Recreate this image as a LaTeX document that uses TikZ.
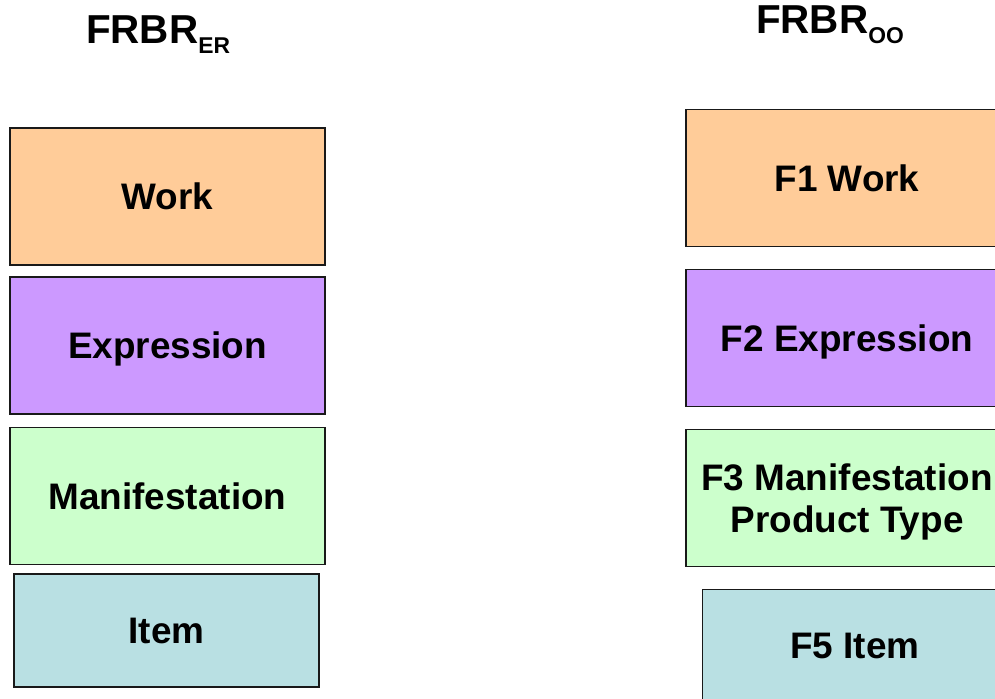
\documentclass[tikz,border=0pt]{standalone}
\usepackage{fontspec}
\setmainfont{Liberation Sans}
\usetikzlibrary{positioning}
\definecolor{workfill}{RGB}{255,204,153}
\definecolor{exprfill}{RGB}{204,153,255}
\definecolor{maniffill}{RGB}{204,255,204}
\definecolor{itemfill}{RGB}{185,224,227}
\newcommand{\subfont}{\fontsize{13}{13}\selectfont\bfseries}
\tikzstyle{title} = [anchor=base, inner sep=0pt, font=\fontsize{23}{26}\selectfont\bfseries]
\tikzstyle{entity} = [rectangle, minimum width=6.3cm, minimum height=2.74cm, text centered, align=center, text depth=0pt, draw=black!90, line width=1.1pt, font=\fontsize{21}{24}\selectfont\bfseries]
\tikzstyle{itembox} = [entity, minimum width=6.1cm, minimum height=2.26cm, fill=itemfill]
\begin{document}
\begin{tikzpicture}[node distance=2.98cm]
\useasboundingbox (0,0) rectangle (19.9,-13.96);
\clip (0,0) rectangle (19.9,-13.96);
% FRBR-ER column
\node (er) [title] at (3.16,-0.86) {FRBR\raisebox{-0.2cm}{\subfont ER}};
\node (work) [entity, fill=workfill] at (3.35,-3.93) {Work};
\node (expr) [entity, fill=exprfill, below of=work] {Expression};
\node (manif) [entity, fill=maniffill, below of=expr, yshift=-0.03cm] {Manifestation};
\node (item) [itembox, below of=manif, yshift=0.29cm, xshift=-0.02cm] {Item};
% FRBR-OO column
\begin{scope}[node distance=3.2cm]
\node (oo) [title] at (16.6,-0.66) {FRBR\raisebox{-0.2cm}{\subfont OO}};
\node (fwork) [entity, minimum width=6.44cm, fill=workfill] at (16.94,-3.56) {F1 Work};
\node (fexpr) [entity, minimum width=6.44cm, fill=exprfill, below of=fwork] {F2 Expression};
\node (fmanif) [entity, minimum width=6.44cm, fill=maniffill, below of=fexpr] {F3 Manifestation\\Product Type};
\node (fitem) [itembox, below of=fmanif, yshift=0.24cm, xshift=0.16cm] {F5 Item};
\end{scope}
\end{tikzpicture}
\end{document}
